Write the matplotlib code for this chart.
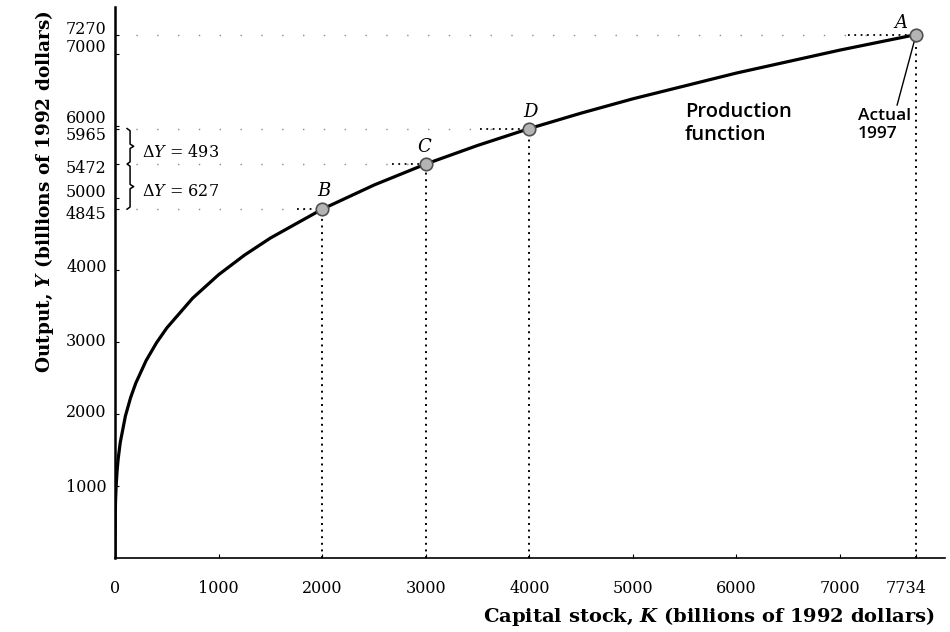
import matplotlib
matplotlib.use("Agg")
import matplotlib.pyplot as plt
from matplotlib.transforms import ScaledTranslation

# production function (K in billions, Y in billions)
capital = [0, 2, 5, 10, 20, 30, 50, 100, 150, 200, 300, 400, 500, 750, 1000,
           1250, 1500, 2000, 2500, 3000, 3500, 4000, 4500, 5000, 6000, 7000, 7734]
output = [0, 610, 803, 988, 1217, 1374, 1602, 1972, 2227, 2428, 2742, 2989, 3196,
          3610, 3935, 4207, 4444, 4845, 5180, 5472, 5730, 5965, 6179, 6378, 6736,
          7055, 7270]

point_names = ['B', 'C', 'D', 'A']
point_k = [2000, 3000, 4000, 7734]
point_y = [4845, 5472, 5965, 7270]

x_ticks = [0, 1000, 2000, 3000, 4000, 5000, 6000, 7000, 7734]
y_ticks = [1000, 2000, 3000, 4000, 4845, 5000, 5472, 5965, 6000, 7000, 7270]
delta_labels = [r'$\Delta Y$ = 493', r'$\Delta Y$ = 627']

plt.rcParams['font.family'] = 'DejaVu Serif'
plt.rcParams['mathtext.fontset'] = 'dejavuserif'

fig = plt.figure(figsize=(9.5, 6.32), dpi=100)
ax = fig.add_axes([0.1211, 0.1171, 0.8737, 0.8718])

ax.plot(capital, output, color='black', lw=2.3, solid_capstyle='round', zorder=3)

# sparse faint guides from the y axis, denser dots right next to each point
near_start = [1757, 2675, 3524, 7075]
for k, y, k0 in zip(point_k, point_y, near_start):
    ax.plot([0, k], [y, y], color='#8a8a8a', lw=1, linestyle=(0, (1, 14)), zorder=1)
    ax.plot([k0, k], [y, y], color='black', lw=1.3, linestyle=(0, (1, 2.5)), zorder=2)
    ax.plot([k, k], [0, y], color='black', lw=1.4, linestyle=(0, (1, 2.4)), zorder=2)

ax.plot(point_k, point_y, 'o', ms=9, mfc='#b4b4b4', mec='#505050', mew=1.2, zorder=4)

label_offsets = {'B': (1, 13), 'C': (-1, 12), 'D': (1, 12), 'A': (-11, 8)}
for name, k, y in zip(point_names, point_k, point_y):
    ax.annotate(name, (k, y), xytext=label_offsets[name], textcoords='offset points',
                ha='center', va='center', fontsize=13, style='italic', zorder=5)

# braces next to the y axis
mid1 = (point_y[2] + point_y[1]) / 2
mid2 = (point_y[1] + point_y[0]) / 2
bx = [116, 145, 145, 180, 145, 145, 116, 145, 145, 180, 145, 145, 116]
by = [5965, 5935, mid1 + 30, mid1, mid1 - 30, 5502, 5472, 5442, mid2 + 30, mid2,
      mid2 - 30, 4875, 4845]
ax.plot(bx, by, color='black', lw=1.1, clip_on=False, zorder=3)
ax.text(261, mid1 - 80, delta_labels[0], fontsize=11.5, va='center', ha='left')
ax.text(261, mid2 - 70, delta_labels[1], fontsize=11.5, va='center', ha='left')

ax.text(5503, 6330, 'Production\nfunction', fontsize=14.5, family='Open Sans',
        fontweight='semibold', va='top', ha='left', linespacing=1.15)
ax.annotate('Actual\n1997', xy=(point_k[3], point_y[3]), xytext=(7174, 6250),
            fontsize=12.5, family='Open Sans', fontweight='semibold', va='top', ha='left',
            linespacing=1.2,
            arrowprops=dict(arrowstyle='-', color='black', lw=1, shrinkA=0, shrinkB=5,
                            relpos=(0.72, 1.0)))

ax.set_xlim(0, 8014)
ax.set_ylim(0, 7653)
ax.spines['top'].set_visible(False)
ax.spines['right'].set_visible(False)
ax.spines['left'].set_linewidth(1.8)
ax.spines['bottom'].set_linewidth(1.2)

ax.set_xticks(x_ticks)
ax.set_xticklabels([str(v) for v in x_ticks])
ax.set_yticks(y_ticks)
ax.set_yticklabels([str(v) for v in y_ticks])
ax.tick_params(direction='in', length=3, width=0.8, labelsize=11.5)
ax.tick_params(axis='x', pad=16)
ax.tick_params(axis='y', pad=6)

# nudge crowded y labels apart, like the printed figure
nudge_px = {7270: 7, 7000: 9, 6000: 10, 5965: -5, 5472: -2, 5000: 8, 4845: -3,
            4000: 5, 3000: 3, 2000: 4}
for tick_val, lab in zip(y_ticks, ax.get_yticklabels()):
    dy = nudge_px.get(tick_val, 0) / 100
    lab.set_transform(lab.get_transform() + ScaledTranslation(0, dy, fig.dpi_scale_trans))
for tick_val, lab in zip(x_ticks, ax.get_xticklabels()):
    if tick_val == 7734:
        lab.set_transform(lab.get_transform() + ScaledTranslation(-0.1, 0, fig.dpi_scale_trans))

fig.text(935 / 950, 1 - 617 / 632, r'Capital stock, $\mathbfit{K}$ (billions of 1992 dollars)',
         ha='right', va='center', fontsize=14, fontweight='bold')
fig.text(45 / 950, 1 - 10 / 632, r'Output, $\mathbfit{Y}$ (billions of 1992 dollars)',
         ha='center', va='top', rotation=90, fontsize=13.3, fontweight='bold')

fig.savefig('out.png', dpi=100)
